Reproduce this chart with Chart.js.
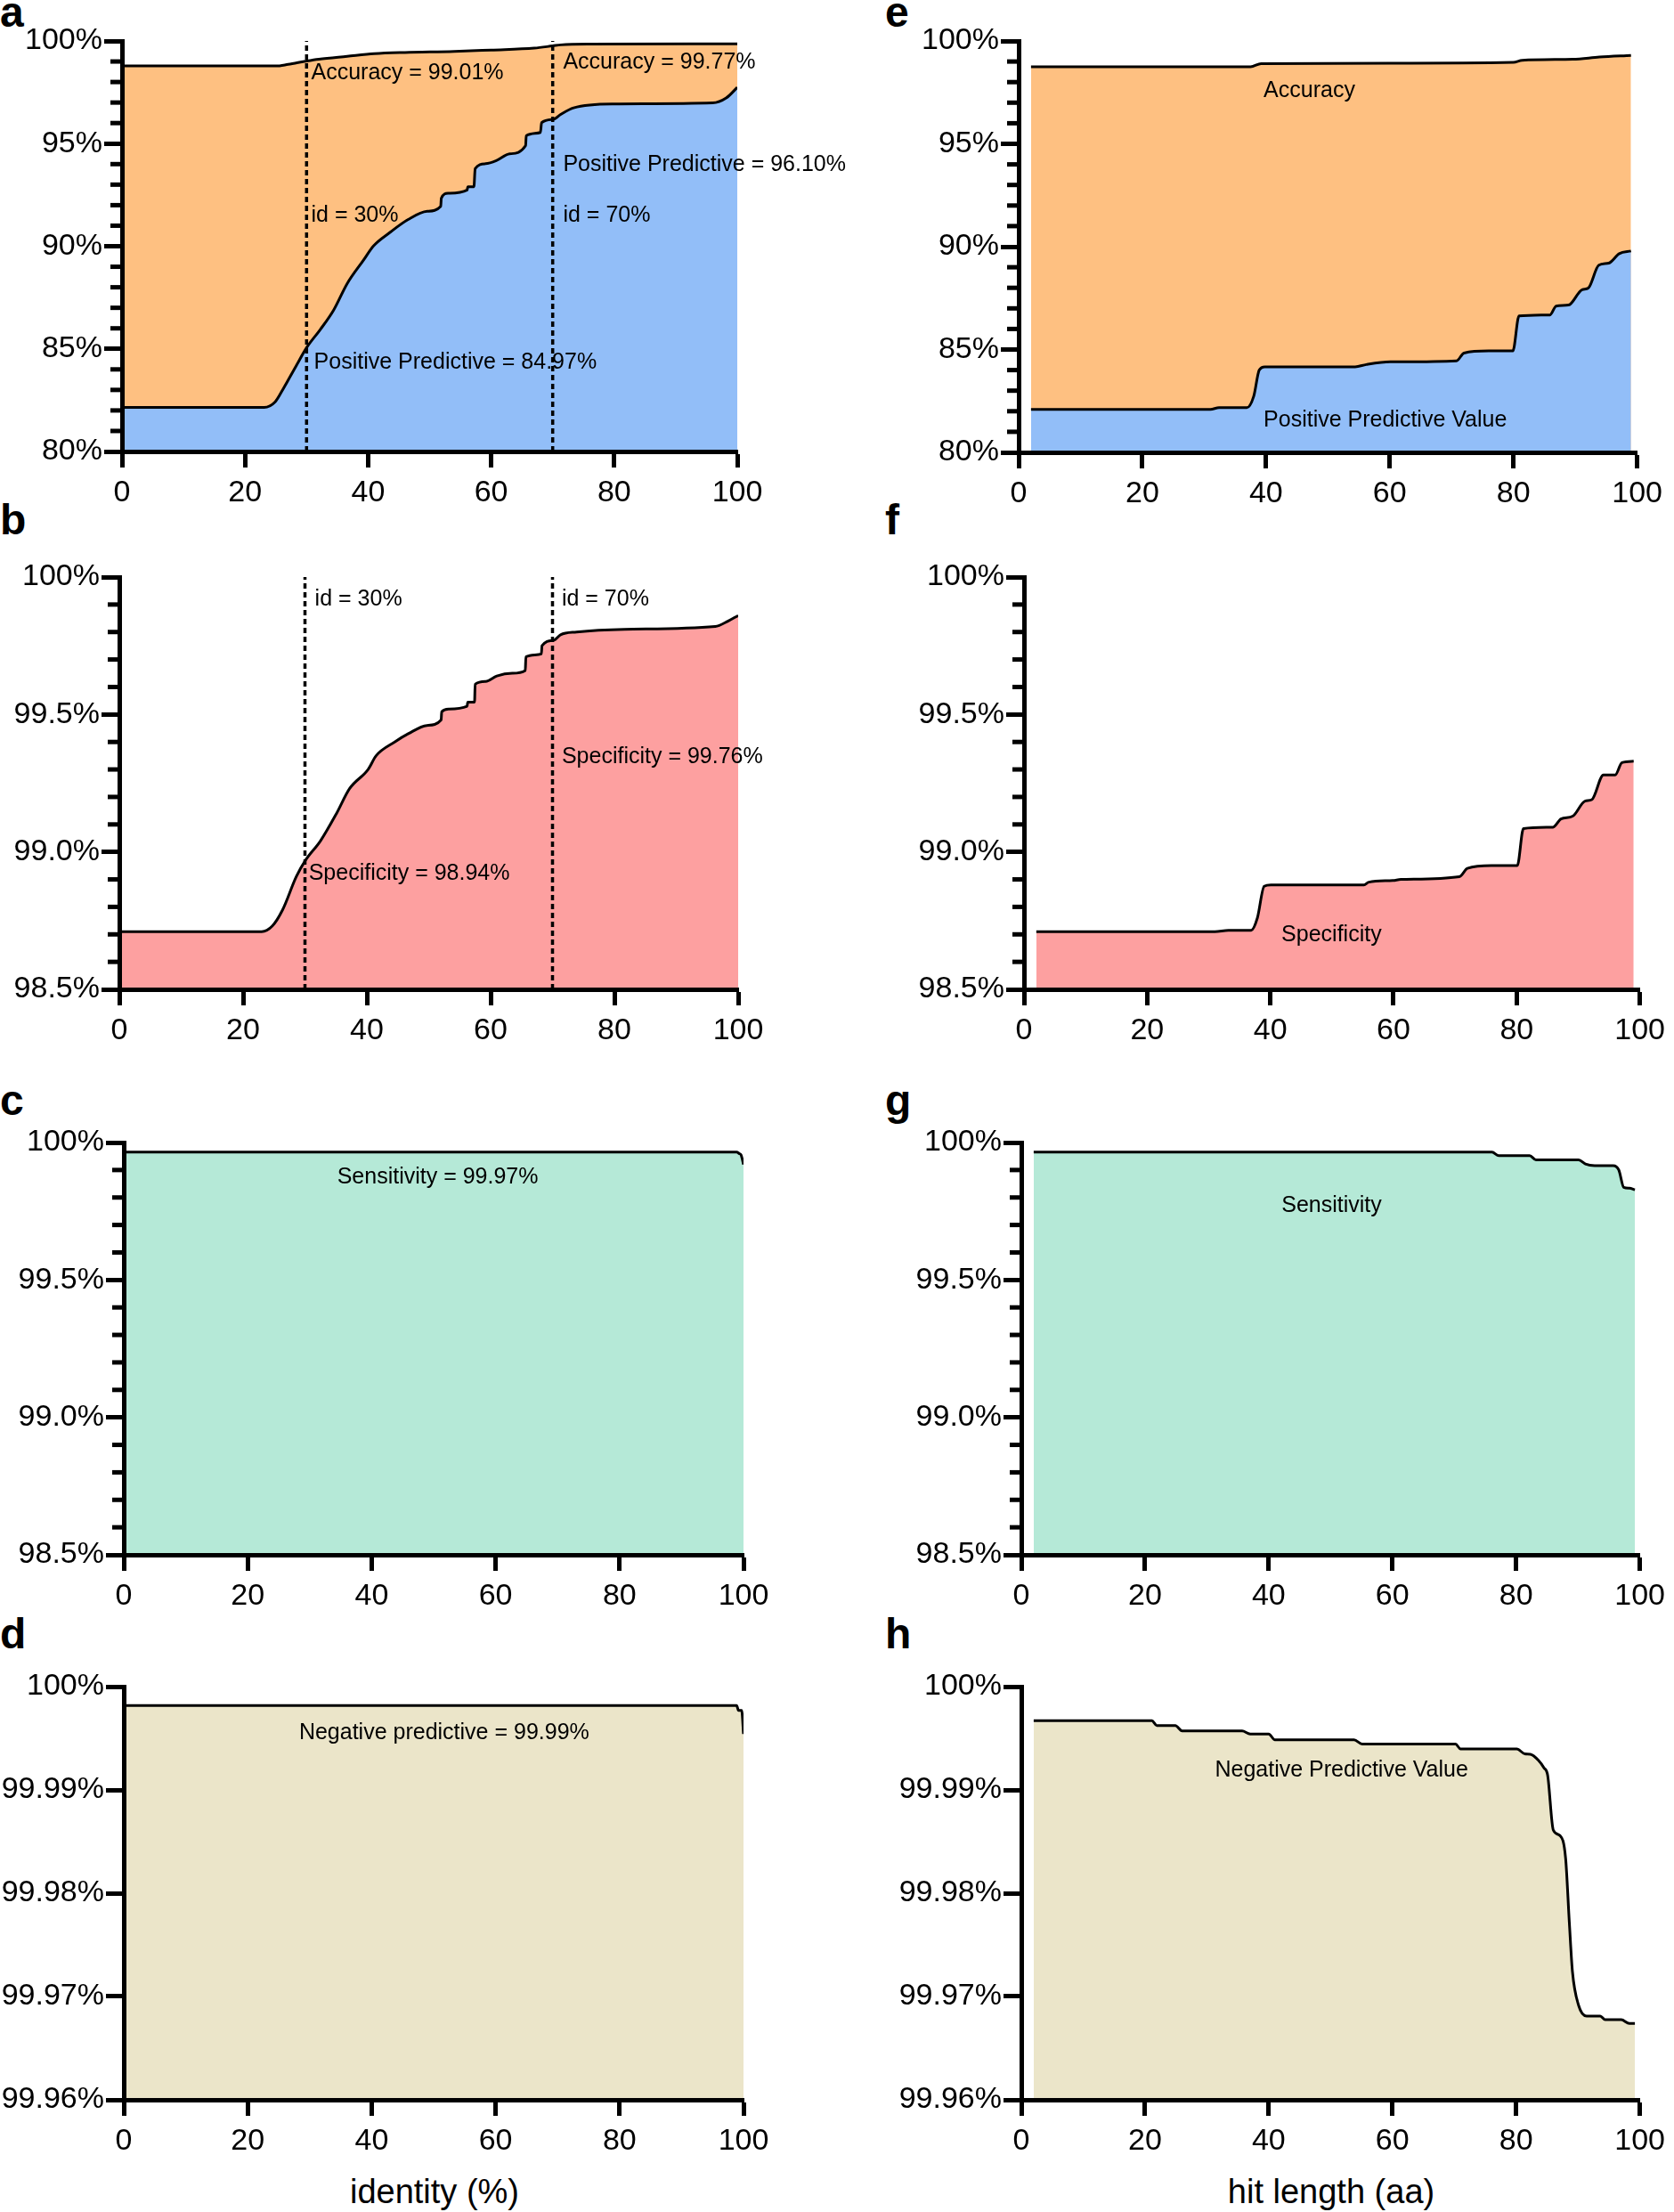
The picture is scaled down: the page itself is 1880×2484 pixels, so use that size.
<!DOCTYPE html>
<html>
<head>
<meta charset="utf-8">
<script src="https://cdn.jsdelivr.net/npm/chart.js@4.4.0/dist/chart.umd.min.js"></script>
<style>
  html, body { margin: 0; padding: 0; background: #fff; overflow: hidden; }
  body { width: 1880px; height: 2484px; position: relative; font-family: "Liberation Sans", Arial, sans-serif; }
  canvas { position: absolute; }
  .tag { position: absolute; line-height: 1; font-size: 48px; font-weight: bold; }
  .title { position: absolute; line-height: 1; font-size: 38px; white-space: nowrap; transform: translateX(-50%); }
</style>
</head>
<body>
<div class="tag" style="left:0px;top:-10px">a</div>
<div class="tag" style="left:994px;top:-10px">e</div>
<div class="tag" style="left:0px;top:560px">b</div>
<div class="tag" style="left:994px;top:560px">f</div>
<div class="tag" style="left:0px;top:1212px">c</div>
<div class="tag" style="left:994px;top:1212px">g</div>
<div class="tag" style="left:0px;top:1811px">d</div>
<div class="tag" style="left:994px;top:1811px">h</div>
<div class="title" style="left:488px;top:2442px">identity (%)</div>
<div class="title" style="left:1495px;top:2442px">hit length (aa)</div>

<script>
// ---- identity (%) panels ----
const idCutoffs = [30, 70];

const idAccX = [0, 25, 27, 30, 32, 36.6, 41, 46, 54, 60, 67, 70, 71.3, 75.6, 100];
const idAcc  = [98.78, 98.78, 98.86, 99.02, 99.11, 99.25, 99.38, 99.44, 99.49, 99.56, 99.65, 99.76, 99.81, 99.85, 99.86];

const idPpvX = [0, 23.1, 24.9, 26.2, 28.3, 30.1, 32.2, 34.4, 36.6, 39.2, 40.9, 43.5, 46.5, 49.6, 51.8, 51.9, 53.0, 56.1, 56.2, 57.2,
                57.4, 59.1, 60.9, 63.0, 65.6, 65.7, 68.0, 68.2, 70.1, 71.3, 73.4, 79.9, 96.0, 98.2, 100];
const idPpv  = [82.15, 82.15, 82.42, 83.05, 84.17, 85.1, 85.93, 86.89, 88.18, 89.30, 90.02, 90.66, 91.30, 91.70, 91.94, 92.34, 92.58, 92.74, 92.90, 92.90,
                93.78, 94.02, 94.18, 94.50, 94.90, 95.38, 95.54, 96.02, 96.18, 96.42, 96.74, 96.93, 96.98, 97.22, 97.74];

const idSpecX = [0, 23, 24.7, 26.4, 28.6, 30.1, 32.5, 35.1, 37.2, 40.2, 41.5, 44.5, 46.7, 49.7, 52, 52.1, 53.2, 56.2, 56.3, 57.4,
                 57.5, 59.2, 61, 63.5, 65.6, 65.7, 68.2, 68.3, 70.2, 71.3, 73.9, 81.6, 96.3, 98.4, 100];
const idSpec  = [98.71, 98.71, 98.73, 98.79, 98.91, 98.97, 99.04, 99.14, 99.23, 99.30, 99.35, 99.40, 99.43, 99.46, 99.48, 99.51, 99.52, 99.53, 99.545, 99.545,
                 99.61, 99.62, 99.64, 99.65, 99.66, 99.71, 99.72, 99.75, 99.77, 99.79, 99.80, 99.81, 99.82, 99.84, 99.86];

const idSensX = [0, 98.9, 99.3, 99.6, 100];
const idSens  = [99.965, 99.965, 99.96, 99.955, 99.92];

const idNpvX = [0, 98.9, 99.2, 99.7, 100];
const idNpv  = [99.99816, 99.99816, 99.99769, 99.99769, 99.99542];

// ---- hit length (aa) panels ----
const lenAccX = [2, 37.5, 39.2, 60, 80, 81.4, 89.6, 93.9, 99];
const lenAcc  = [98.75, 98.75, 98.90, 98.92, 98.96, 99.06, 99.11, 99.22, 99.30];

const lenPpvX = [2, 31, 32.4, 36.9, 38, 38.9, 39.8, 54.4, 56.2, 60.1, 70.8, 72, 76, 79.9, 80.9, 85.9, 86.9, 88.9, 91.1, 92.1, 93.8, 95.4, 97.1, 99];
const lenPpv  = [82.09, 82.09, 82.17, 82.17, 82.72, 84.0, 84.16, 84.16, 84.27, 84.40, 84.45, 84.83, 84.93, 84.93, 86.63, 86.68, 87.11, 87.16, 87.91, 87.99, 89.10, 89.20, 89.66, 89.79];

const lenSpecX = [2, 31, 33.2, 36.9, 37.9, 39, 40.1, 55.2, 56, 59.9, 61.2, 70.7, 72, 75.9, 80.1, 81.1, 85.9, 87.2, 89.1, 91.1, 92.2, 94.1, 96, 97.1, 99];
const lenSpec  = [98.71, 98.71, 98.715, 98.715, 98.76, 98.875, 98.88, 98.88, 98.89, 98.896, 98.90, 98.91, 98.94, 98.95, 98.95, 99.085, 99.09, 99.12, 99.13, 99.185, 99.19, 99.28, 99.28, 99.325, 99.33];

const lenSensX = [2, 76.1, 77.2, 82.2, 83.2, 90.1, 91.2, 92.7, 95.7, 96.6, 97.4, 98.3, 99.2];
const lenSens  = [99.965, 99.965, 99.952, 99.952, 99.937, 99.937, 99.922, 99.916, 99.916, 99.90, 99.837, 99.834, 99.828];

const lenNpvX = [2, 21.1, 21.9, 24.9, 26, 35.7, 37, 40, 41, 53.8, 55.1, 70.2, 71, 80.1, 81.4, 82.3, 83.6, 84.5, 85.1, 86,
                 87.1, 88, 88.6, 89.1, 90.1, 91.4, 93.6, 94.4, 97, 98.3, 99.2];
const lenNpv  = [99.99671, 99.99671, 99.99623, 99.99623, 99.99571, 99.99571, 99.99542, 99.99542, 99.99484, 99.99484, 99.99444, 99.99444, 99.99397, 99.99397, 99.99349, 99.99345, 99.99287, 99.99214, 99.9914, 99.98612,
                 99.98557, 99.98338, 99.97717, 99.97242, 99.96914, 99.96811, 99.96811, 99.96775, 99.96775, 99.96739, 99.96739];

const ORANGE = '#FEC081', BLUE = '#92BEF8', PINK = '#FDA0A0', GREEN = '#B5E9D7', BEIGE = '#EBE5C9';

Chart.defaults.font.family = '"Liberation Sans", Arial, sans-serif';
Chart.defaults.font.size = 34;
Chart.defaults.color = '#000';

const Y_W = 140, PAD_T = 30, X_H = 70;

function pts(xs, ys) {
  return xs.map((x, i) => ({ x: x, y: ys[i] }));
}

function area(xs, ys, color, order) {
  return { data: pts(xs, ys), backgroundColor: color, fill: 'start', order: order };
}

function cutoff(x, lo, hi) {
  return { data: pts([x, x], [lo, hi]), fill: false, borderWidth: 3.5, borderDash: [6, 4],
           tension: 0, cubicInterpolationMode: 'default', order: 0 };
}

// minor y ticks + text notes
const notesPlugin = {
  id: 'notes',
  afterDraw(chart, args, opts) {
    const ctx = chart.ctx, xs = chart.scales.x, ys = chart.scales.y;
    const left = chart.chartArea.left;
    ctx.save();
    if (opts.minor) {
      ctx.strokeStyle = '#000';
      ctx.lineWidth = 5;
      const n = Math.round((opts.max - opts.min) / opts.minor);
      const per = Math.round(opts.major / opts.minor);
      for (let i = 1; i < n; i++) {
        if (i % per === 0) continue;
        const p = ys.getPixelForValue(opts.min + i * opts.minor);
        ctx.beginPath();
        ctx.moveTo(left - 13, p);
        ctx.lineTo(left - 2, p);
        ctx.stroke();
      }
    }
    ctx.font = '25px "Liberation Sans", Arial, sans-serif';
    ctx.fillStyle = '#000';
    ctx.textBaseline = 'middle';
    (opts.items || []).forEach(n => {
      ctx.textAlign = n.align || 'left';
      ctx.fillText(n.text, xs.getPixelForValue(n.x), ys.getPixelForValue(n.y));
    });
    ctx.restore();
  }
};

function pct(dec) {
  return v => (Math.abs(v - 100) < 1e-9 ? '100' : v.toFixed(dec)) + '%';
}

function panel(box, yAxis, sets, notes, padR) {
  const cv = document.createElement('canvas');
  const w = Y_W + (box.r - box.l) + padR;
  const h = PAD_T + (box.b - box.t) + X_H;
  cv.width = w; cv.height = h;
  cv.style.left = (box.l - Y_W) + 'px';
  cv.style.top = (box.t - PAD_T) + 'px';
  cv.style.width = w + 'px';
  cv.style.height = h + 'px';
  document.body.appendChild(cv);

  new Chart(cv, {
    type: 'line',
    data: { datasets: sets },
    options: {
      responsive: false,
      animation: false,
      devicePixelRatio: 1,
      layout: { padding: { left: 0, top: PAD_T, right: padR, bottom: 0 } },
      elements: {
        point: { radius: 0 },
        line: { borderWidth: 3, borderColor: '#000', cubicInterpolationMode: 'monotone' }
      },
      plugins: {
        legend: { display: false },
        tooltip: { enabled: false },
        notes: { items: notes, minor: yAxis.minor, major: yAxis.step, min: yAxis.min, max: yAxis.max }
      },
      scales: {
        x: {
          type: 'linear', min: 0, max: 100,
          border: { width: 5, color: '#000', z: 1 },
          grid: { drawOnChartArea: false, tickLength: 18, tickWidth: 5, tickColor: '#000' },
          ticks: { stepSize: 20, padding: 8, maxRotation: 0 },
          afterFit: s => { s.height = X_H; }
        },
        y: {
          type: 'linear', min: yAxis.min, max: yAxis.max,
          border: { width: 5, color: '#000', z: 1 },
          grid: { drawOnChartArea: false, tickLength: 20, tickWidth: 5, tickColor: '#000' },
          ticks: { stepSize: yAxis.step, padding: 2, callback: yAxis.fmt },
          afterFit: s => { s.width = Y_W; }
        }
      }
    },
    plugins: [notesPlugin]
  });
}

const axisWide = { min: 80, max: 100, step: 5, minor: 1, fmt: pct(0) };
const axisMid = { min: 98.5, max: 100, step: 0.5, minor: 0.1, fmt: pct(1) };
const axisFine = { min: 99.96, max: 100, step: 0.01, minor: null, fmt: pct(2) };

// a
panel({ l: 137, t: 46, r: 828, b: 507 }, axisWide, [
  cutoff(idCutoffs[0], 80, 100), cutoff(idCutoffs[1], 80, 100),
  area(idPpvX, idPpv, BLUE, 1),
  area(idAccX, idAcc, ORANGE, 2)
], [
  { text: 'Accuracy = 99.01%', x: 30.75, y: 98.44 },
  { text: 'Accuracy = 99.77%', x: 71.7, y: 98.97 },
  { text: 'Positive Predictive = 96.10%', x: 71.7, y: 93.95 },
  { text: 'id = 30%', x: 30.75, y: 91.51 },
  { text: 'id = 70%', x: 71.7, y: 91.51 },
  { text: 'Positive Predictive = 84.97%', x: 31.2, y: 84.34 }
], 140);

// b
panel({ l: 134, t: 648, r: 829, b: 1111 }, axisMid, [
  cutoff(idCutoffs[0], 98.5, 100), cutoff(idCutoffs[1], 98.5, 100),
  area(idSpecX, idSpec, PINK, 1)
], [
  { text: 'id = 30%', x: 31.6, y: 99.919 },
  { text: 'id = 70%', x: 71.5, y: 99.919 },
  { text: 'Specificity = 99.76%', x: 71.5, y: 99.346 },
  { text: 'Specificity = 98.94%', x: 30.6, y: 98.922 }
], 140);

// c
panel({ l: 139, t: 1283, r: 835, b: 1746 }, axisMid, [
  area(idSensX, idSens, GREEN, 1)
], [
  { text: 'Sensitivity = 99.97%', x: 50.66, y: 99.872, align: 'center' }
], 140);

// d
panel({ l: 139, t: 1894, r: 835, b: 2358 }, axisFine, [
  area(idNpvX, idNpv, BEIGE, 1)
], [
  { text: 'Negative predictive = 99.99%', x: 51.7, y: 99.99552, align: 'center' }
], 140);

// e
panel({ l: 1144, t: 46, r: 1839, b: 508 }, axisWide, [
  area(lenPpvX, lenPpv, BLUE, 1),
  area(lenAccX, lenAcc, ORANGE, 2)
], [
  { text: 'Accuracy', x: 39.6, y: 97.59 },
  { text: 'Positive Predictive Value', x: 39.6, y: 81.57 }
], 36);

// f
panel({ l: 1150, t: 648, r: 1844, b: 1111 }, axisMid, [
  area(lenSpecX, lenSpec, PINK, 1)
], [
  { text: 'Specificity', x: 41.8, y: 98.698 }
], 34);

// g
panel({ l: 1147, t: 1283, r: 1842, b: 1746 }, axisMid, [
  area(lenSensX, lenSens, GREEN, 1)
], [
  { text: 'Sensitivity', x: 42.07, y: 99.769 }
], 36);

// h
panel({ l: 1147, t: 1894, r: 1842, b: 2358 }, axisFine, [
  area(lenNpvX, lenNpv, BEIGE, 1)
], [
  { text: 'Negative Predictive Value', x: 31.3, y: 99.99189 }
], 36);
</script>
</body>
</html>
